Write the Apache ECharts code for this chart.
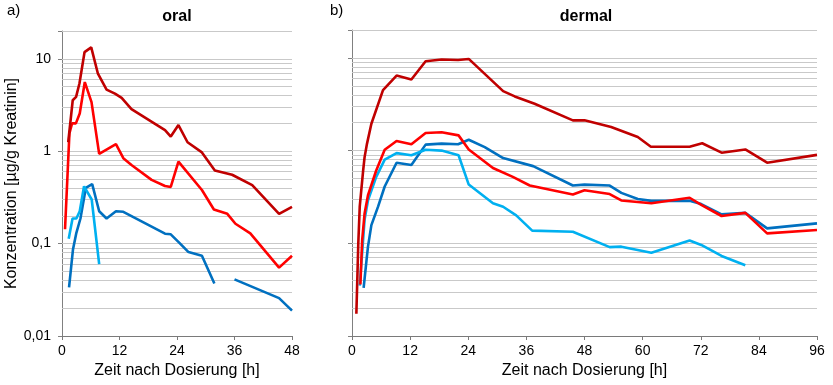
<!DOCTYPE html>
<html><head><meta charset="utf-8">
<script src="https://cdn.jsdelivr.net/npm/echarts@6/dist/echarts.min.js"></script>
<style>html,body{margin:0;padding:0;background:#fff}#c{width:833px;height:385px}</style>
</head><body><div id="c"></div>
<script>
// ---- oral (a) ----
const oralDarkRedT = [1.3, 2.24, 2.94, 3.64, 4.7, 6.1, 7.5, 9.3, 11.05, 12.45, 14.5, 21.5, 22.7, 24.3, 26.2, 29.2, 31.9, 35.5, 39.7, 45.3, 48];
const oralDarkRedV = [1.25, 3.56, 3.87, 5.4, 11.8, 13.3, 6.9, 4.64, 4.2, 3.77, 2.85, 1.69, 1.44, 1.92, 1.25, 0.97, 0.62, 0.556, 0.43, 0.21, 0.25];
const oralRedT = [0.63, 1.55, 2.1, 2.9, 3.7, 4.76, 6.16, 7.76, 11.26, 12.8, 14.5, 18.7, 21.5, 22.7, 24.3, 29.2, 31.7, 34.5, 36.2, 39.3, 45.3, 48];
const oralRedV = [0.143, 1.56, 2.0, 2.0, 2.56, 5.6, 3.4, 0.935, 1.19, 0.84, 0.71, 0.49, 0.42, 0.41, 0.77, 0.38, 0.234, 0.21, 0.164, 0.129, 0.055, 0.074];
const oralLightBlueT = [1.4, 2.2, 3.0, 3.7, 4.6, 6.2, 7.76];
const oralLightBlueV = [0.113, 0.187, 0.187, 0.224, 0.417, 0.30, 0.06];
const oralBlueT = [1.47, 2.3, 3.0, 3.85, 4.97, 6.3, 7.76, 9.3, 11.26, 12.8, 21.5, 22.7, 24.5, 26.4, 29.2, 31.8, 34, 36, 45.3, 48];
const oralBlueV = [0.0336, 0.087, 0.131, 0.187, 0.40, 0.44, 0.224, 0.187, 0.224, 0.221, 0.128, 0.126, 0.102, 0.081, 0.074, 0.037, null, 0.041, 0.0257, 0.0188];

// ---- dermal (b) ----
const dermDarkRedT = [0.9, 1.3, 1.6, 2.3, 2.6, 3.1, 4.0, 6.4, 6.75, 9.2, 12.26, 15.2, 18.5, 21.9, 24.1, 27.4, 31.2, 33.6, 37.7, 45.6, 48, 53.5, 59, 61.7, 69.7, 72.3, 76.3, 81.2, 85.7, 96];
const dermDarkRedV = [0.0174, 0.1, 0.25, 0.61, 0.85, 1.19, 1.95, 4.5, 4.71, 6.45, 5.84, 9.2, 9.6, 9.5, 9.75, 6.73, 4.38, 3.84, 3.2, 2.12, 2.12, 1.8, 1.4, 1.1, 1.1, 1.2, 0.95, 1.03, 0.74, 0.90];
const dermRedT = [1.73, 2.1, 2.6, 3.3, 5.0, 6.75, 9.2, 12.26, 15.2, 18.5, 22, 24.1, 29.1, 33.2, 36.7, 45.6, 48, 53.2, 55.6, 61.8, 69.7, 72.1, 76.3, 81.2, 85.7, 96];
const dermRedV = [0.036, 0.108, 0.21, 0.33, 0.61, 1.02, 1.27, 1.17, 1.55, 1.58, 1.46, 1.03, 0.65, 0.52, 0.42, 0.336, 0.374, 0.34, 0.29, 0.27, 0.31, 0.26, 0.197, 0.213, 0.128, 0.139];
const dermLightBlueT = [1.6, 2.6, 3.3, 5.0, 6.75, 9.2, 12.26, 15.2, 18.5, 22, 24.1, 29.1, 31.2, 33.9, 37.2, 45.6, 53.2, 55.6, 61.8, 69.7, 72.1, 76.3, 81.2];
const dermLightBlueV = [0.035, 0.18, 0.29, 0.52, 0.80, 0.94, 0.89, 1.02, 1.0, 0.89, 0.43, 0.27, 0.248, 0.20, 0.137, 0.133, 0.091, 0.092, 0.079, 0.107, 0.096, 0.073, 0.058];
const dermBlueT = [2.4, 3.0, 3.3, 4.0, 5.4, 6.75, 9.2, 12.26, 15.2, 18.5, 21.9, 24.1, 27.4, 31.2, 37.4, 45.6, 48, 53.2, 55.6, 59, 61.8, 69.7, 72.1, 76.3, 81.2, 85.7, 96];
const dermBlueV = [0.033, 0.066, 0.092, 0.157, 0.25, 0.41, 0.74, 0.70, 1.16, 1.19, 1.17, 1.31, 1.09, 0.83, 0.68, 0.42, 0.43, 0.42, 0.35, 0.30, 0.287, 0.287, 0.265, 0.205, 0.213, 0.145, 0.164];

const panelTitles = ['oral', 'dermal'];
const panelLetters = ['a)', 'b)'];
const yDecades = [0.01, 0.1, 1, 10];
const xName = 'Zeit nach Dosierung [h]';
const yName = 'Konzentration [µg/g Kreatinin]';

const zip = (t, v) => t.map((x, i) => [x, v[i] == null ? '-' : v[i]]);

// gridline positions (Excel-style minor gridlines on log axis)
const gridVals = [];
[0.01, 0.1, 1, 10].forEach(d => { for (let k = 1; k <= 9; k++) { const val = +(d * k).toPrecision(3); if (val > 0.01 && val <= 20) gridVals.push(val); } });
gridVals.push(20);

const FONT = 'Liberation Sans, Arial, sans-serif';
const COL = { dr: '#C00000', r: '#FF0000', db: '#0070C0', lb: '#00B0F0' };

function lineSeries(idx, t, v, color, z) {
  return { type: 'line', xAxisIndex: idx, yAxisIndex: idx, data: zip(t, v), showSymbol: false, symbol: 'none',
    lineStyle: { color, width: 2.6 }, itemStyle: { color }, connectNulls: false, z, silent: true, animation: false };
}
function gridSeries(idx) {
  return { type: 'line', xAxisIndex: idx, yAxisIndex: idx, data: [], silent: true, z: 1,
    markLine: { silent: true, symbol: 'none', z: 1, label: { show: false }, animation: false,
      lineStyle: { color: '#c9c9c9', width: 1, type: 'solid' },
      emphasis: { disabled: true },
      data: gridVals.map(g => ({ yAxis: g })) } };
}
function yAxis(idx, showLabels) {
  return { type: 'log', gridIndex: idx, min: 0.01, max: 20, logBase: 10,
    name: showLabels ? yName : '', nameLocation: 'middle', nameGap: 38,
    nameTextStyle: { fontFamily: FONT, fontSize: 16, color: '#000' },
    axisLine: { show: true, lineStyle: { color: '#808080', width: 1 } },
    axisTick: { show: true, length: 4, lineStyle: { color: '#808080' } },
    splitLine: { show: false }, minorTick: { show: false },
    axisLabel: { show: showLabels, margin: 11, fontFamily: FONT, fontSize: 14, color: '#000',
      formatter: v => { const m = yDecades.find(d => Math.abs(d - v) / d < 1e-6); return m === undefined ? '' : String(m).replace('.', ','); } } };
}
function xAxis(idx, max) {
  return { type: 'value', gridIndex: idx, min: 0, max, interval: 12,
    name: xName, nameLocation: 'middle', nameGap: 27,
    nameTextStyle: { fontFamily: FONT, fontSize: 16, color: '#000' },
    axisLine: { show: true, onZero: false, lineStyle: { color: '#7a7a7a', width: 1 } },
    axisTick: { show: true, length: 4, lineStyle: { color: '#7a7a7a' } },
    splitLine: { show: false },
    axisLabel: { margin: 8, fontFamily: FONT, fontSize: 14, color: '#000' } };
}

const chart = echarts.init(document.getElementById('c'), null, { renderer: 'canvas' });
chart.setOption({
  animation: false,
  backgroundColor: '#fff',
  grid: [
    { left: 62, top: 31, width: 230, height: 305, containLabel: false },
    { left: 352, top: 30, width: 465, height: 306, containLabel: false }
  ],
  xAxis: [xAxis(0, 48), xAxis(1, 96)],
  yAxis: [yAxis(0, true), yAxis(1, false)],
  graphic: [
    { type: 'text', x: 177, y: 17, style: { text: panelTitles[0], font: 'bold 16px ' + FONT, fill: '#000', align: 'center', verticalAlign: 'middle' } },
    { type: 'text', x: 586, y: 17, style: { text: panelTitles[1], font: 'bold 16px ' + FONT, fill: '#000', align: 'center', verticalAlign: 'middle' } },
    { type: 'text', x: 7, y: 11, style: { text: panelLetters[0], font: '15px ' + FONT, fill: '#000', align: 'left', verticalAlign: 'middle' } },
    { type: 'text', x: 330, y: 11, style: { text: panelLetters[1], font: '15px ' + FONT, fill: '#000', align: 'left', verticalAlign: 'middle' } }
  ],
  series: [
    gridSeries(0), gridSeries(1),
    lineSeries(0, oralBlueT, oralBlueV, COL.db, 10),
    lineSeries(0, oralLightBlueT, oralLightBlueV, COL.lb, 11),
    lineSeries(0, oralRedT, oralRedV, COL.r, 12),
    lineSeries(0, oralDarkRedT, oralDarkRedV, COL.dr, 13),
    lineSeries(1, dermBlueT, dermBlueV, COL.db, 10),
    lineSeries(1, dermLightBlueT, dermLightBlueV, COL.lb, 11),
    lineSeries(1, dermRedT, dermRedV, COL.r, 12),
    lineSeries(1, dermDarkRedT, dermDarkRedV, COL.dr, 13)
  ]
});
</script>
</body></html>
